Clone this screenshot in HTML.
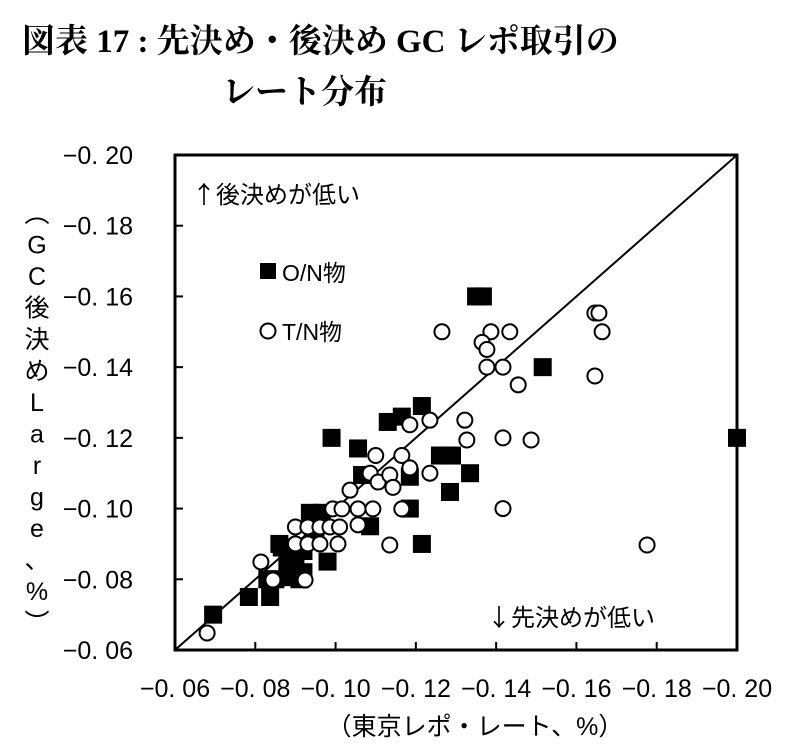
<!DOCTYPE html>
<html><head><meta charset="utf-8"><style>
html,body{margin:0;padding:0;background:#fff;}
svg{display:block;font-family:"Liberation Sans","Noto Sans CJK JP",sans-serif;}
</style></head><body>
<svg id="chart" width="811" height="754" viewBox="0 0 811 754">
<text x="22" y="52" font-size="33" font-weight="bold" font-family="'Liberation Serif','Noto Serif CJK SC',serif">図表 17 : 先決め・後決め GC レポ取引の</text>
<text x="222" y="103" font-size="33" font-weight="bold" font-family="'Liberation Serif','Noto Serif CJK SC',serif">レート分布</text>
<g id="yticks"></g><g id="xticks"></g>
<g id="ytitle" font-size="25" text-anchor="middle"></g>
<text x="475" y="735" font-size="25" text-anchor="middle">（東京レポ・レート、%）</text>
<rect x="175" y="155" width="562" height="495" fill="none" stroke="#000" stroke-width="3"/>
<line id="diag" stroke="#000" stroke-width="2"/>
<g id="marks"></g>
<text x="192" y="203" font-size="24" font-family="'Noto Sans CJK JP',sans-serif">↑後決めが低い</text>
<text x="487" y="626" font-size="24" font-family="'Noto Sans CJK JP',sans-serif">↓先決めが低い</text>
<rect x="260" y="263" width="16" height="16" fill="#000"/>
<text x="282" y="281" font-size="23">O/N物</text>
<circle cx="268" cy="331" r="7.5" fill="#fff" stroke="#000" stroke-width="2"/>
<text x="282" y="340" font-size="23">T/N物</text>
</svg>
<script>
const xTicks=[-0.06,-0.08,-0.10,-0.12,-0.14,-0.16,-0.18,-0.20];
const yTicks=[-0.06,-0.08,-0.10,-0.12,-0.14,-0.16,-0.18,-0.20];
const xTickLabels=["−0. 06","−0. 08","−0. 10","−0. 12","−0. 14","−0. 16","−0. 18","−0. 20"];
const yTickLabels=["−0. 06","−0. 08","−0. 10","−0. 12","−0. 14","−0. 16","−0. 18","−0. 20"];
const onX=[-0.0695,-0.0784,-0.0837,-0.083,-0.086,-0.090,-0.091,-0.098,-0.099,-0.1056,-0.113,-0.1165,-0.1215,-0.1066,-0.0936,-0.0966,-0.1086,-0.1185,-0.1215,-0.0866,-0.088,-0.126,-0.129,-0.1285,-0.1185,-0.135,-0.1367,-0.1516,-0.1335,-0.20,-0.092,-0.095,-0.088,-0.085,-0.092];
const onY=[-0.070,-0.075,-0.075,-0.080,-0.090,-0.0855,-0.080,-0.085,-0.120,-0.117,-0.1245,-0.126,-0.129,-0.1095,-0.0988,-0.0988,-0.095,-0.100,-0.090,-0.089,-0.0806,-0.115,-0.115,-0.1047,-0.109,-0.160,-0.160,-0.140,-0.110,-0.120,-0.088,-0.094,-0.085,-0.080,-0.082];
const tnX=[-0.068,-0.0814,-0.0844,-0.0924,-0.090,-0.0931,-0.0961,-0.0986,-0.101,-0.090,-0.0931,-0.0961,-0.1006,-0.0993,-0.1016,-0.1056,-0.1093,-0.1165,-0.1056,-0.1036,-0.1086,-0.1106,-0.1135,-0.1143,-0.110,-0.1165,-0.1185,-0.1235,-0.1135,-0.1185,-0.1235,-0.1322,-0.1327,-0.1265,-0.1387,-0.1434,-0.1365,-0.1377,-0.1377,-0.1417,-0.1455,-0.1646,-0.1656,-0.1664,-0.1646,-0.1417,-0.1487,-0.1417,-0.1776];
const tnY=[-0.0648,-0.0849,-0.0798,-0.0798,-0.0948,-0.0948,-0.0948,-0.0948,-0.0948,-0.090,-0.090,-0.090,-0.090,-0.0999,-0.0999,-0.0999,-0.0999,-0.0999,-0.0954,-0.1052,-0.110,-0.1075,-0.1095,-0.106,-0.115,-0.115,-0.1115,-0.110,-0.0897,-0.1237,-0.125,-0.125,-0.1194,-0.150,-0.150,-0.150,-0.147,-0.145,-0.140,-0.140,-0.135,-0.1553,-0.1553,-0.150,-0.1375,-0.120,-0.1194,-0.100,-0.0897];
const yTitle=["︵","G","C","後","決","め","L","a","r","g","e","、","%","︶"];
const NS="http://www.w3.org/2000/svg";
const X0=175,X1=737,Y0=650,Y1=155;
function sx(v){return X0+(v-(-0.06))/(-0.20-(-0.06))*(X1-X0);}
function sy(v){return Y0-(v-(-0.06))/(-0.20-(-0.06))*(Y0-Y1);}
function mk(t,a,p){const e=document.createElementNS(NS,t);for(const k in a)e.setAttribute(k,a[k]);p.appendChild(e);return e;}
const yg=document.getElementById('yticks'),xg=document.getElementById('xticks');
yTicks.forEach((v,i)=>{
 const l=mk('line',{x1:X0,x2:X0+8,y1:sy(v),y2:sy(v),stroke:'#000','stroke-width':2},yg);
 
 
 const t=mk('text',{x:133,y:sy(v)+9,'font-size':25,'text-anchor':'end'},yg);
 t.textContent=yTickLabels[i];
 
 
});
xTicks.forEach((v,i)=>{
 const l=mk('line',{x1:sx(v),x2:sx(v),y1:Y0,y2:Y0-8,stroke:'#000','stroke-width':2},xg);
 
 
 const t=mk('text',{x:sx(v),y:697,'font-size':25,'text-anchor':'middle'},xg);
 t.textContent=xTickLabels[i];
 
 
});
const tg=document.getElementById('ytitle');
yTitle.forEach((c,i)=>{const t=mk('text',{x:37,y:222+i*31.5},tg);t.textContent=c;
 
 });
const d=document.getElementById('diag');
d.setAttribute('x1',sx(-0.06));d.setAttribute('y1',sy(-0.06));d.setAttribute('x2',sx(-0.20));d.setAttribute('y2',sy(-0.20));
const mg=document.getElementById('marks');
onX.forEach((v,i)=>{
 const r=mk('rect',{x:sx(v)-9,y:sy(onY[i])-9,width:18,height:18,fill:'#000'},mg);
 
 
});
tnX.forEach((v,i)=>{
 const c=mk('circle',{cx:sx(v),cy:sy(tnY[i]),r:7.5,fill:'#fff',stroke:'#000','stroke-width':2},mg);
 
 
});
</script>
</body></html>
